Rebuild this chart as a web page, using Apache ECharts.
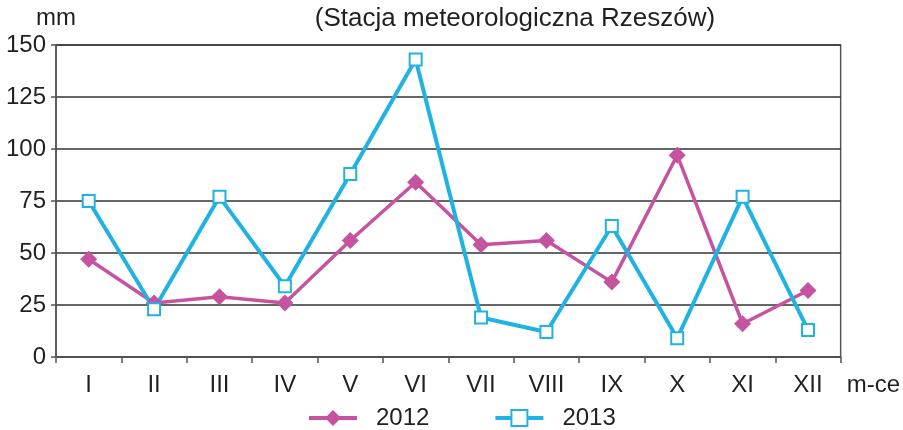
<!DOCTYPE html>
<html>
<head>
<meta charset="utf-8">
<script src="https://cdn.jsdelivr.net/npm/echarts@6/dist/echarts.min.js"></script>
<style>
  html, body { margin: 0; padding: 0; background: #fff; }
  #chart { width: 903px; height: 430px; }
</style>
</head>
<body>
<div id="chart"></div>
<script>
const miesiace = ["I", "II", "III", "IV", "V", "VI", "VII", "VIII", "IX", "X", "XI", "XII"];
const opady2012 = [47, 26, 29, 26, 56, 84, 54, 56, 36, 97, 16, 32];
const opady2013 = [75, 23, 77, 34, 88, 143, 19, 12, 63, 9, 77, 13];

const fontFam = "'Liberation Sans', Arial, sans-serif";
const chart = echarts.init(document.getElementById("chart"));

chart.setOption({
  animation: false,
  textStyle: { fontFamily: fontFam },
  title: {
    text: "(Stacja meteorologiczna Rzeszów)",
    left: 510,
    textAlign: "center",
    top: 1,
    textStyle: { fontSize: 26, fontWeight: "normal", color: "#231f20", fontFamily: fontFam }
  },
  legend: {
    left: 302,
    top: 401,
    itemWidth: 48,
    itemHeight: 20,
    itemGap: 64,
    lineStyle: { width: 4 },
    textStyle: { fontSize: 24, color: "#231f20", padding: [0, 0, 0, 14], fontFamily: fontFam },
    data: ["2012", "2013"]
  },
  grid: {
    left: 56,
    right: 61,
    top: 45,
    bottom: 73,
    show: true,
    borderColor: "#555",
    borderWidth: 1.5
  },
  xAxis: {
    type: "category",
    data: miesiace,
    boundaryGap: true,
    name: "m-ce",
    nameLocation: "end",
    nameGap: 6,
    nameTextStyle: { fontSize: 24, color: "#231f20", verticalAlign: "top", padding: [16, 0, 0, 0] },
    axisLine: { lineStyle: { color: "#555", width: 1.5 } },
    axisTick: { show: true, length: 6, lineStyle: { color: "#555", width: 1.5 } },
    axisLabel: { fontSize: 24, color: "#231f20", margin: 16 }
  },
  yAxis: {
    type: "value",
    min: 0,
    max: 150,
    interval: 25,
    name: "mm",
    nameLocation: "end",
    nameGap: 15,
    nameTextStyle: { fontSize: 24, color: "#231f20", align: "center" },
    axisLine: { show: true, lineStyle: { color: "#555", width: 1.5 } },
    axisTick: { show: true, length: 5, lineStyle: { color: "#555", width: 1.5 } },
    axisLabel: { fontSize: 24, color: "#231f20", margin: 10 },
    splitLine: { show: true, lineStyle: { color: "#333", width: 1.5 } }
  },
  series: [
    {
      name: "2012",
      type: "line",
      data: opady2012,
      symbol: "diamond",
      symbolSize: 17,
      lineStyle: { color: "#c5539f", width: 3.5 },
      itemStyle: { color: "#c5539f" }
    },
    {
      name: "2013",
      type: "line",
      data: opady2013,
      symbol: "rect",
      symbolSize: 12,
      lineStyle: { color: "#1fb2e3", width: 4 },
      itemStyle: { color: "#ffffff", borderColor: "#1fb2e3", borderWidth: 2 }
    }
  ]
});
</script>
</body>
</html>
